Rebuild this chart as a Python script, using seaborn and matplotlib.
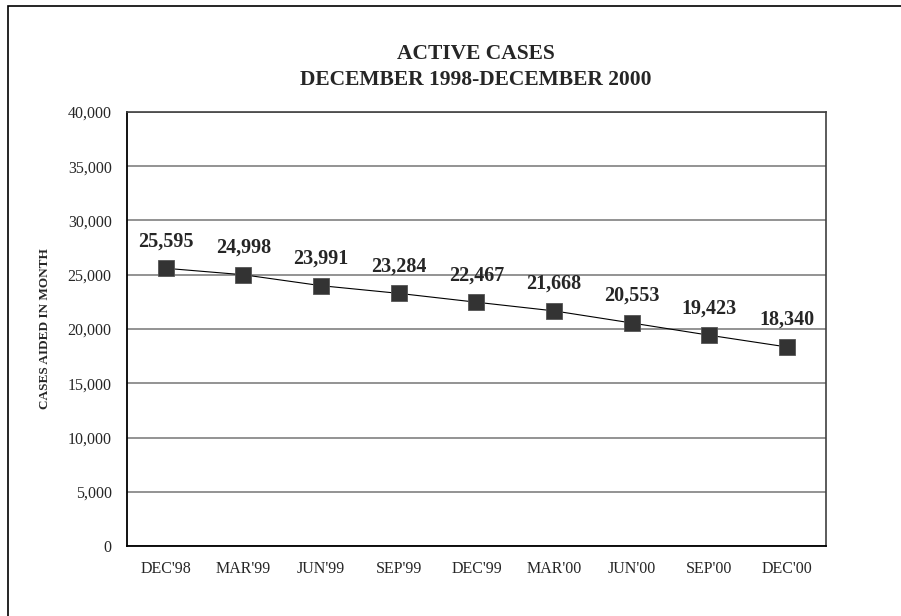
import matplotlib
matplotlib.use("Agg")
import matplotlib.pyplot as plt
import matplotlib.patches as patches
from matplotlib.ticker import MultipleLocator, FuncFormatter, FixedLocator
import pandas as pd
import seaborn as sns

months = ["DEC'98", "MAR'99", "JUN'99", "SEP'99", "DEC'99",
          "MAR'00", "JUN'00", "SEP'00", "DEC'00"]
cases = [25595, 24998, 23991, 23284, 22467, 21668, 20553, 19423, 18340]

sns.set_style("white")
plt.rcParams["font.family"] = ["Liberation Serif", "DejaVu Serif"]

df = pd.DataFrame({"month": months, "cases": cases})
df["pos"] = range(len(df))

fig = plt.figure(figsize=(9.01, 6.16), dpi=100)
ax = fig.add_axes([127 / 901, 1 - 546 / 616, 699 / 901, 434 / 616])

sns.lineplot(data=df, x="pos", y="cases", ax=ax, color="black", linewidth=0.8,
             marker="s", markersize=11.5, markerfacecolor="#333333",
             markeredgecolor="#555555", markeredgewidth=0.6, zorder=3)

for x, y in zip(df["pos"], df["cases"]):
    ax.annotate(f"{y:,}", (x, y), xytext=(0, 19.5), textcoords="offset points",
                ha="center", va="center", fontsize=14.5, fontweight="bold")

ax.set_xlim(-0.5, len(months) - 0.5)
ax.set_ylim(0, 40000)

# y axis
ax.yaxis.set_major_locator(MultipleLocator(5000))
ax.yaxis.set_minor_locator(MultipleLocator(2500))
ax.yaxis.set_major_formatter(FuncFormatter(lambda v, p: f"{int(v):,}"))
ax.tick_params(axis="y", which="major", direction="out", length=5, width=1,
               color="black", labelsize=11.5, pad=6)
ax.tick_params(axis="y", which="minor", direction="inout", length=7, width=1,
               color="black")
ax.grid(axis="y", which="major", color="#808080", linewidth=1.2)

# x axis: ticks between categories, labels at centers
ax.xaxis.set_major_locator(FixedLocator([i - 0.5 for i in range(len(months) + 1)]))
ax.xaxis.set_major_formatter(FuncFormatter(lambda v, p: ""))
ax.set_xticks(range(len(months)), labels=months, minor=True)
ax.tick_params(axis="x", which="major", direction="out", length=5, width=1,
               color="black")
ax.tick_params(axis="x", which="minor", length=0, labelsize=11.5, pad=11)

for side in ["left", "bottom"]:
    ax.spines[side].set_color("black")
    ax.spines[side].set_linewidth(1.3)
for side in ["top", "right"]:
    ax.spines[side].set_color("#404040")
    ax.spines[side].set_linewidth(1.2)

ax.set_xlabel("")
ax.set_ylabel("CASES AIDED IN MONTH", fontsize=9.5, fontweight="bold")
ax.yaxis.set_label_coords(-76 / 699, 0.5)

fig.text(476 / 901, 1 - 54 / 616, "ACTIVE CASES", ha="center", va="center",
         fontsize=15.5, fontweight="bold")
fig.text(476 / 901, 1 - 80 / 616, "DECEMBER 1998-DECEMBER 2000", ha="center",
         va="center", fontsize=15.5, fontweight="bold")

frame = patches.Rectangle((8 / 901, -0.1), 1.2, 1.1 - 6 / 616,
                          transform=fig.transFigure, fill=False,
                          edgecolor="black", linewidth=1.2, clip_on=False)
fig.patches.append(frame)

fig.savefig("out.png", dpi=100)
